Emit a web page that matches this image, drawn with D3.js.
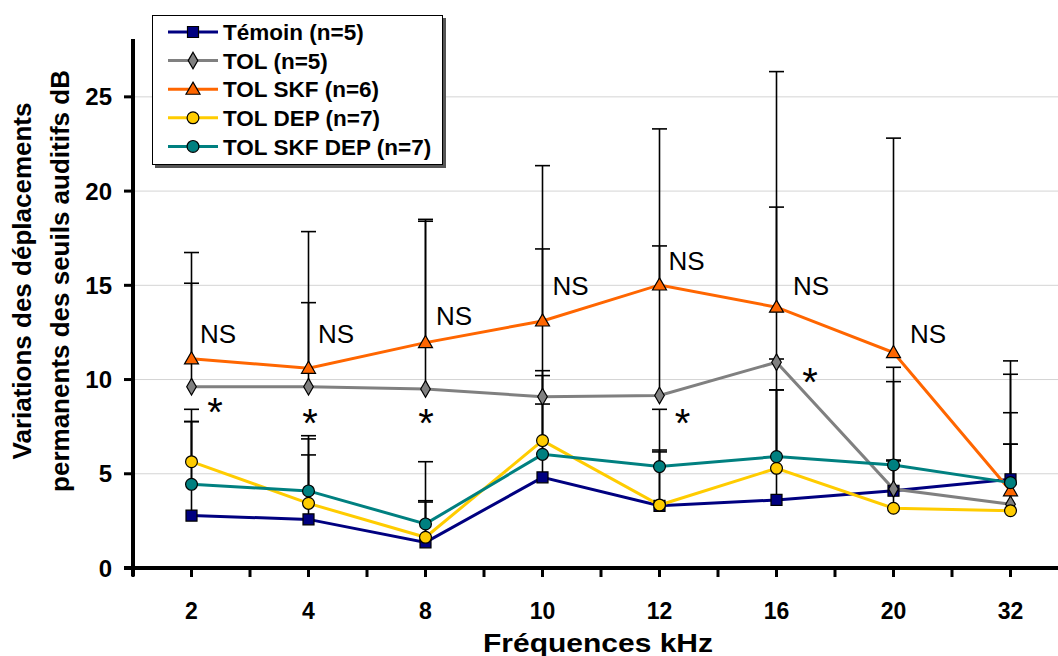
<!DOCTYPE html>
<html>
<head>
<meta charset="utf-8">
<script src="https://cdn.jsdelivr.net/npm/d3@7"></script>
<style>
  html, body { margin: 0; padding: 0; background: #fff; }
  svg { display: block; font-family: "Liberation Sans", Arial, sans-serif; }
</style>
</head>
<body>
<svg id="chart" width="1058" height="656"></svg>
<script>
// ---- Data ----
const categories = ["2", "4", "8", "10", "12", "16", "20", "32"];
const yTicks = [0, 5, 10, 15, 20, 25];

const temoin    = [2.78, 2.58, 1.36, 4.81, 3.30, 3.61, 4.10, 4.71];
const tol       = [9.62, 9.62, 9.50, 9.09, 9.15, 10.92, 4.19, 3.38];
const tolSkf    = [11.10, 10.60, 11.96, 13.11, 15.02, 13.84, 11.43, 4.10];
const tolDep    = [5.64, 3.43, 1.63, 6.76, 3.34, 5.29, 3.17, 3.04];
const tolSkfDep = [4.44, 4.09, 2.34, 6.03, 5.38, 5.91, 5.47, 4.53];

// upper error bars (SD)
const errTemoin    = [4.99, 3.42, 2.14, 3.89, 2.86, 5.84, 1.63, 3.53];
const errTol       = [5.49, 4.46, 8.90, 7.84, 7.94, 8.23, 6.46, 3.19];
const errTolSkf    = [5.64, 7.25, 6.54, 8.24, 8.28, 12.50, 11.38, 6.89];
const errTolDep    = [2.78, 3.42, 4.01, 3.71, 2.92, 4.16, 2.51, 3.53];
const errTolSkfDep = [3.33, 2.93, 1.23, 4.18, 3.04, 5.18, 4.42, 5.75];

const seriesNames = ["Témoin (n=5)", "TOL (n=5)", "TOL SKF (n=6)", "TOL DEP (n=7)", "TOL SKF DEP (n=7)"];

// annotations: category, value of text baseline
const nsCats   = ["2", "4", "8", "10", "12", "16", "20"];
const nsValues = [11.93, 11.93, 12.9, 14.49, 15.82, 14.49, 11.93];
const starCats   = ["2", "4", "8", "12", "16"];
const starValues = [7.55, 6.95, 6.95, 6.95, 9.15];

const yTitleLines = ["Variations des déplacements", "permanents des seuils auditifs dB"];
const xTitle = "Fréquences kHz";

// ---- Build ----
const series = [
  { name: seriesNames[0], values: temoin,    err: errTemoin,    color: "#000080", fill: "#000080", marker: "square" },
  { name: seriesNames[1], values: tol,       err: errTol,       color: "#808080", fill: "#808080", marker: "diamond" },
  { name: seriesNames[2], values: tolSkf,    err: errTolSkf,    color: "#FF6600", fill: "#FF6600", marker: "triangle" },
  { name: seriesNames[3], values: tolDep,    err: errTolDep,    color: "#FFCC00", fill: "#FFCC00", marker: "circle" },
  { name: seriesNames[4], values: tolSkfDep, err: errTolSkfDep, color: "#008080", fill: "#008080", marker: "circle" }
];

const svg = d3.select("#chart");
const x0 = 133, bandW = 117;
const x = d3.scaleBand().domain(categories).range([x0, x0 + bandW * categories.length]).padding(0);
const cx = c => x(c) + x.bandwidth() / 2;
const y = d3.scaleLinear().domain([0, 28.07]).range([568, 39]);

// gridlines
svg.append("g").selectAll("line").data(yTicks.filter(t => t > 0)).join("line")
  .attr("x1", x0).attr("x2", 1058)
  .attr("y1", d => y(d)).attr("y2", d => y(d))
  .attr("stroke", "#d4d4d4").attr("stroke-width", 1);

// error bars
const eb = svg.append("g");
series.forEach(s => {
  categories.forEach((c, i) => {
    const xc = cx(c), y1 = y(s.values[i]), y2 = y(s.values[i] + s.err[i]);
    eb.append("line").attr("x1", xc).attr("x2", xc).attr("y1", y1).attr("y2", y2)
      .attr("stroke", "#000").attr("stroke-width", 1.6);
    eb.append("line").attr("x1", xc - 7.5).attr("x2", xc + 7.5).attr("y1", y2).attr("y2", y2)
      .attr("stroke", "#000").attr("stroke-width", 1.6);
  });
});

// lines
const line = d3.line().x((d, i) => cx(categories[i])).y(d => y(d));
series.forEach(s => {
  svg.append("path").datum(s.values).attr("d", line)
    .attr("fill", "none").attr("stroke", s.color).attr("stroke-width", 3);
});

// markers
const symbolFor = m => ({
  square: d3.symbol().type(d3.symbolSquare).size(121),
  diamond: d3.symbol().type(d3.symbolDiamond).size(80),
  triangle: d3.symbol().type(d3.symbolTriangle).size(85),
  circle: d3.symbol().type(d3.symbolCircle).size(110)
}[m]);
series.forEach(s => {
  svg.append("g").selectAll("path").data(s.values).join("path")
    .attr("transform", (d, i) => `translate(${cx(categories[i])},${y(d) + (s.marker === "triangle" ? 1 : 0)})`)
    .attr("d", symbolFor(s.marker)())
    .attr("fill", s.fill).attr("stroke", "#000").attr("stroke-width", 1.2);
});

// axes
const axisG = svg.append("g");
axisG.append("line").attr("x1", x0).attr("x2", x0).attr("y1", y(28.07)).attr("y2", y(0) + 8)
  .attr("stroke", "#000").attr("stroke-width", 4);
axisG.append("line").attr("x1", x0 - 9).attr("x2", 1058).attr("y1", y(0)).attr("y2", y(0))
  .attr("stroke", "#000").attr("stroke-width", 4);
axisG.selectAll(".yt").data(yTicks).join("line").attr("class", "yt")
  .attr("x1", x0 - 9).attr("x2", x0).attr("y1", d => y(d)).attr("y2", d => y(d))
  .attr("stroke", "#000").attr("stroke-width", 3);
axisG.selectAll(".ytl").data(yTicks).join("text").attr("class", "ytl")
  .attr("x", x0 - 21).attr("y", d => y(d)).attr("dy", "0.36em")
  .attr("text-anchor", "end").attr("font-weight", "bold").attr("font-size", 24)
  .text(d => d);
// x ticks at band edges and centres
const xTickPos = [];
categories.forEach(c => { xTickPos.push(x(c)); xTickPos.push(cx(c)); });
xTickPos.push(x0 + bandW * categories.length);
axisG.selectAll(".xt").data(xTickPos).join("line").attr("class", "xt")
  .attr("x1", d => d).attr("x2", d => d).attr("y1", y(0)).attr("y2", y(0) + 9)
  .attr("stroke", "#000").attr("stroke-width", 3);
axisG.selectAll(".xtl").data(categories).join("text").attr("class", "xtl")
  .attr("x", d => cx(d)).attr("y", 619)
  .attr("text-anchor", "middle").attr("font-weight", "bold").attr("font-size", 23)
  .text(d => d);

// axis titles
svg.append("text").attr("x", 598).attr("y", 652).attr("text-anchor", "middle")
  .attr("font-weight", "bold").attr("font-size", 25)
  .attr("textLength", 230).attr("lengthAdjust", "spacingAndGlyphs").text(xTitle);
yTitleLines.forEach((t, i) => {
  svg.append("text").attr("transform", `translate(${31 + 38 * i},281) rotate(-90)`)
    .attr("text-anchor", "middle").attr("font-weight", "bold").attr("font-size", 26).text(t);
});

// annotations
const nsDx = [8.5, 9.5, 10.5, 10, 9, 16.5, 16.5];
svg.append("g").selectAll("text").data(nsCats).join("text")
  .attr("x", (c, i) => cx(c) + nsDx[i]).attr("y", (c, i) => y(nsValues[i]))
  .attr("font-size", 26).text("NS");
const starDx = [23.5, 1.5, 0.5, 23, 33.5];
svg.append("g").selectAll("text").data(starCats).join("text")
  .attr("x", (c, i) => cx(c) + starDx[i]).attr("y", (c, i) => y(starValues[i]))
  .attr("text-anchor", "middle").attr("font-size", 40).text("*");

// legend
const lg = svg.append("g");
lg.append("rect").attr("x", 155).attr("y", 18).attr("width", 291).attr("height", 150).attr("fill", "#555");
lg.append("rect").attr("x", 152.5).attr("y", 15.5).attr("width", 290).attr("height", 149)
  .attr("fill", "#fff").attr("stroke", "#000").attr("stroke-width", 1);
series.forEach((s, i) => {
  const ry = 32 + 28.6 * i;
  lg.append("line").attr("x1", 168).attr("x2", 218).attr("y1", ry).attr("y2", ry)
    .attr("stroke", s.color).attr("stroke-width", 3);
  lg.append("path").attr("transform", `translate(193,${ry + (s.marker === "triangle" ? 1 : 0)})`)
    .attr("d", symbolFor(s.marker)())
    .attr("fill", s.fill).attr("stroke", "#000").attr("stroke-width", 1.2);
  lg.append("text").attr("x", 223).attr("y", ry).attr("dy", "0.36em")
    .attr("font-weight", "bold").attr("font-size", 22.5).text(s.name);
});
</script>
</body>
</html>
